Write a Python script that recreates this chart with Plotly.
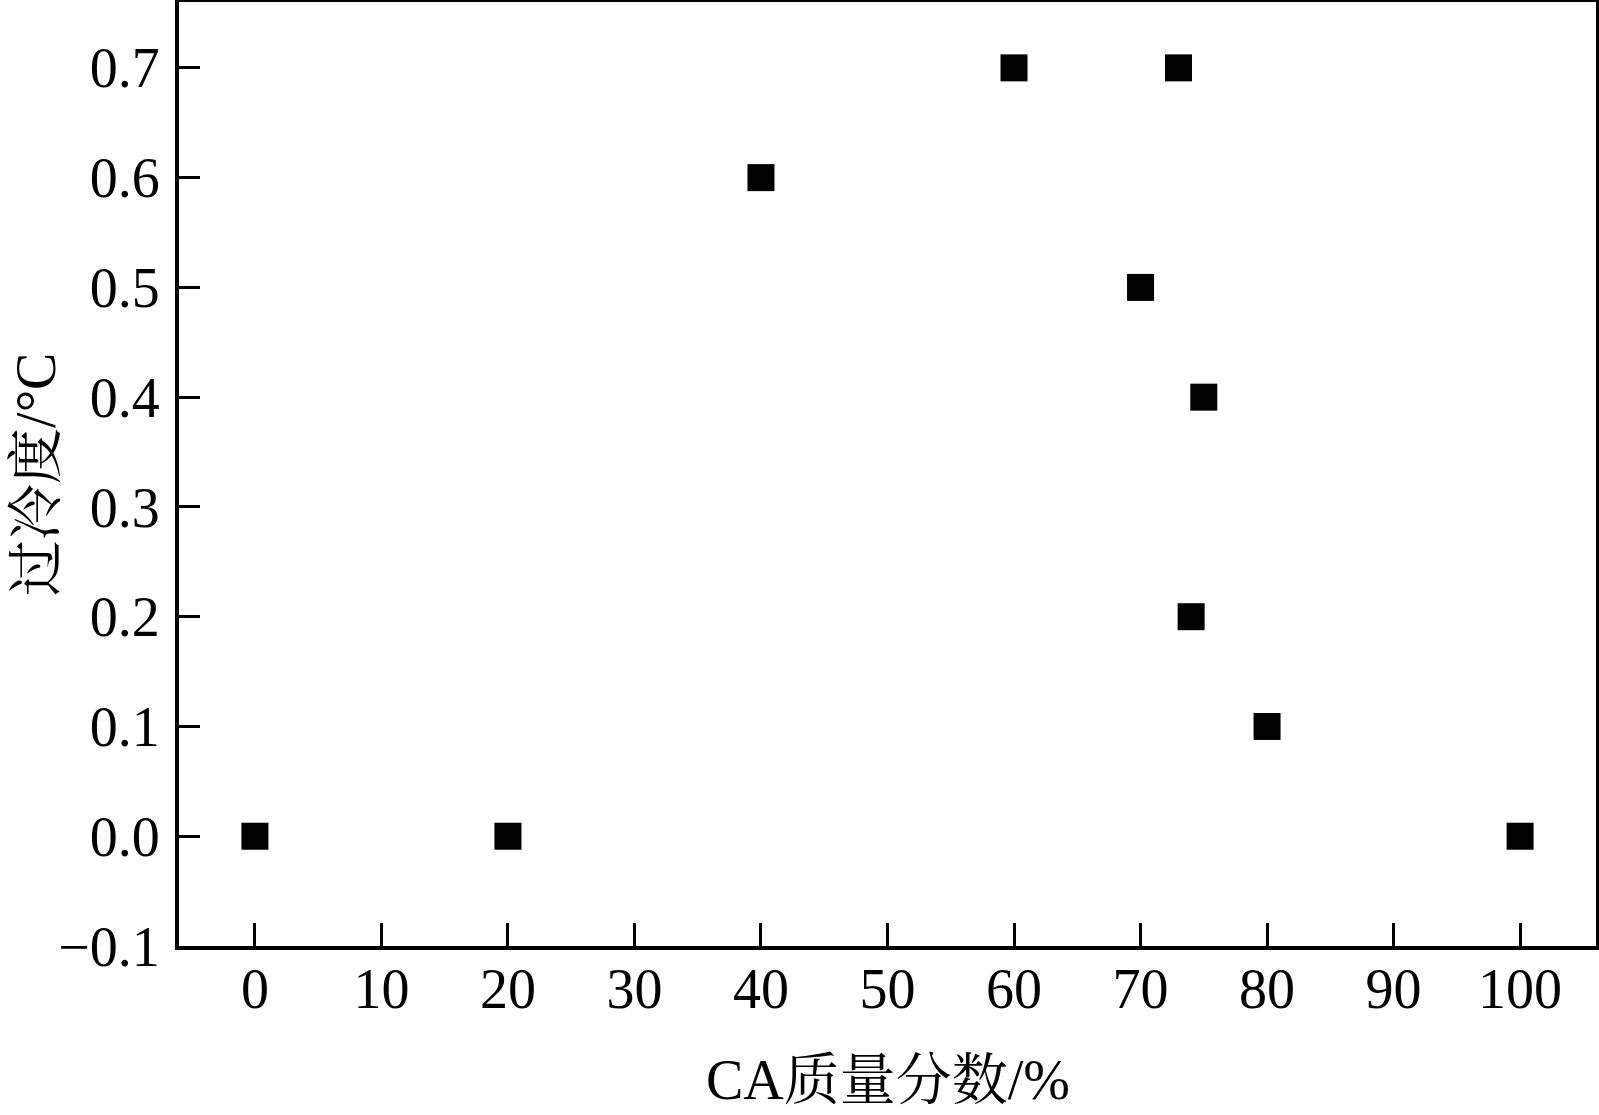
import plotly.graph_objects as go

ca_fraction = [0, 20, 40, 60, 73, 70, 75, 74, 80, 100]
supercooling = [0.0, 0.0, 0.6, 0.7, 0.7, 0.5, 0.4, 0.2, 0.1, 0.0]
x_ticks = [0, 10, 20, 30, 40, 50, 60, 70, 80, 90, 100]
y_ticks = [-0.1, 0.0, 0.1, 0.2, 0.3, 0.4, 0.5, 0.6, 0.7]

FONT = "Liberation Serif, Times New Roman, Noto Serif CJK SC, Noto Sans CJK SC, serif"

fig = go.Figure(go.Scatter(
    x=ca_fraction, y=supercooling, mode="markers",
    marker=dict(symbol="square", size=27, color="black", line=dict(width=0)),
))

fig.update_layout(
    width=1599, height=1115,
    margin=dict(l=179, r=3, t=2, b=169, autoexpand=False),
    paper_bgcolor="white", plot_bgcolor="white",
    showlegend=False,
    font=dict(family=FONT, size=56, color="black"),
    annotations=[
        dict(text="CA质量分数/%", xref="paper", yref="paper", x=0.5, y=-0.142,
             xanchor="center", yanchor="middle", showarrow=False, font=dict(size=56)),
        dict(text="过冷度/°C", xref="paper", yref="paper", x=-0.101, y=0.5,
             xanchor="center", yanchor="middle", textangle=-90, showarrow=False,
             font=dict(size=56)),
    ],
)
fig.update_xaxes(
    range=[-6, 106], tickvals=x_ticks, ticks="inside", ticklen=23, tickwidth=3,
    tickcolor="black", showline=True, linewidth=4, linecolor="black", mirror=True,
    showgrid=False, zeroline=False, ticklabelstandoff=-9, automargin=False,
)
fig.update_yaxes(
    range=[-0.1, 0.76], tickvals=y_ticks, tickformat=".1f", ticks="inside", ticklen=21,
    tickwidth=3, tickcolor="black", showline=True, linewidth=4, linecolor="black",
    mirror=True, showgrid=False, zeroline=False, ticklabelstandoff=4, automargin=False,
)

fig.write_html(
    "out.html",
    config={"displayModeBar": False},
    post_script="document.body.style.margin='0';document.body.style.overflow='hidden';",
)
